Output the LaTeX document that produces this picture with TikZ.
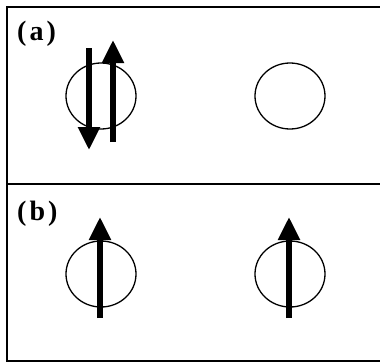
\documentclass[tikz,border=0pt]{standalone}
\usepackage{fontspec}
\setmainfont{Liberation Serif}
\usepackage{tikz}
\usetikzlibrary{shapes.geometric,positioning,calc,arrows.meta}

\tikzset{
  site/.style={draw, ellipse, line width=1.3pt, minimum width=70pt, minimum height=66pt, inner sep=0pt},
  spin/.style={line width=5.5pt, -{Triangle[length=23pt,width=21pt]}},
  panellabel/.style={anchor=north west, inner sep=0pt, font=\fontsize{28}{28}\selectfont\bfseries},
  frame/.style={line width=1.2pt}
}

\begin{document}
\begin{tikzpicture}[x=1pt, y=-1pt]
  \useasboundingbox (0,0) rectangle (380,362);

  % Frame of the two panels
  \coordinate (tl) at (7,7);
  \coordinate (tr) at (380,7);
  \coordinate (ml) at (7,184);
  \coordinate (mr) at (380,184);
  \coordinate (bl) at (7,361);
  \coordinate (br) at (380,361);
  \draw[frame] (tr) -- (tl) -- (bl) -- (br);
  \draw[frame] (ml) -- (mr);

  % Panel (a): doubly occupied site and empty site
  \node[panellabel] (lblA) at (17,21) {(\hspace{3pt}a\hspace{3pt})};
  \node[site] (siteA) at (101,96) {};
  \node[site] (emptyA) at (290,96) {};
  \coordinate (dnTop) at ($(siteA.center)+(-12,-48)$);
  \coordinate (dnTip) at ($(siteA.center)+(-12,54)$);
  \coordinate (upBot) at ($(siteA.center)+(12,46)$);
  \coordinate (upTip) at ($(siteA.center)+(12,-56)$);
  \draw[spin] (dnTop) -- (dnTip);
  \draw[spin] (upBot) -- (upTip);

  % Panel (b): two singly occupied sites
  \node[panellabel] (lblB) at (17,201) {(\hspace{3pt}b\hspace{3pt})};
  \node[site] (siteB1) at (101,274) {};
  \node[site] (siteB2) at (290,274) {};
  \draw[spin] ($(siteB1.center)+(-1,44)$) coordinate (b1Bot) -- ($(siteB1.center)+(-1,-57)$) coordinate (b1Tip);
  \draw[spin] ($(siteB2.center)+(-1,44)$) coordinate (b2Bot) -- ($(siteB2.center)+(-1,-57)$) coordinate (b2Tip);
\end{tikzpicture}
\end{document}
